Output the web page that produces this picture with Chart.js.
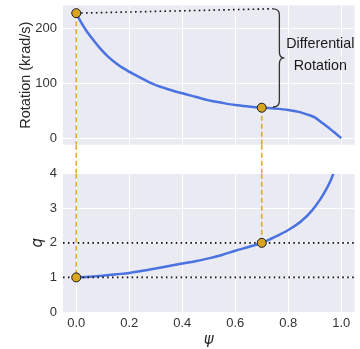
<!DOCTYPE html>
<html>
<head>
<meta charset="utf-8">
<script src="https://cdn.jsdelivr.net/npm/chart.js@4.4.0/dist/chart.umd.min.js"></script>
<style>
  html, body { margin: 0; padding: 0; background: #fff; }
</style>
</head>
<body>
<canvas id="grafico" width="360" height="349"></canvas>
<script>
// values
const psiTop = [0, 0.02, 0.04, 0.06, 0.09, 0.12, 0.15, 0.18, 0.22, 0.26, 0.3, 0.35, 0.4, 0.45, 0.5, 0.55, 0.6, 0.65, 0.7, 0.75, 0.8, 0.84, 0.87, 0.9, 0.93, 0.96, 0.98, 1.0];
const rotation = [228.4, 210, 195, 182, 164, 149, 137, 127, 116, 106, 97, 89, 82, 75.5, 69, 64.5, 60.5, 57.8, 55.6, 54, 51.5, 48, 43.5, 38, 27, 16, 8, 0];

const psiBot = [0, 0.05, 0.1, 0.15, 0.2, 0.25, 0.3, 0.35, 0.4, 0.45, 0.5, 0.55, 0.6, 0.65, 0.7, 0.75, 0.8, 0.85, 0.89, 0.92, 0.94, 0.96, 0.97];
const qValues = [1.0, 1.02, 1.05, 1.09, 1.13, 1.19, 1.26, 1.33, 1.4, 1.47, 1.55, 1.65, 1.77, 1.88, 2.0, 2.17, 2.37, 2.63, 2.94, 3.25, 3.5, 3.8, 4.0];

const markerPsi = [0, 0.7];
const markerRot = [228.4, 55.6];
const markerQ = [1, 2];
const qLines = [1, 2];

const xTicks = [0, 0.2, 0.4, 0.6, 0.8, 1.0];
const rotTicks = [0, 100, 200];
const qTicks = [0, 1, 2, 3, 4];

const xMin = -0.05, xMax = 1.05;
const rotMin = -12.2, rotMax = 242.4;
const qMin = 0, qMax = 4;

// brace + label of the top panel
const braceX = 0.742;
const braceTop = 236.4;
const braceBottom = 56.9;
const labelPsi = 0.921;
const labelLines = ["Differential", "Rotation"];
const labelRot = [172.5, 131];

const blue = "#4a72e0";
const gold = "rgba(222,168,38,0.95)";
const panelBg = "#EAEAF2";
const textColor = "#333333";

const pts = (xs, ys) => xs.map((x, i) => ({ x: x, y: ys[i] }));

const datasets = [];

// markers (drawn on top)
datasets.push({ data: pts(markerPsi, markerRot), yAxisID: "yTop", pointRadius: 4.5, pointBackgroundColor: "#D9A521", pointBorderColor: "#1a1a1a", pointBorderWidth: 1, showLine: false, order: 0 });
datasets.push({ data: pts(markerPsi, markerQ), yAxisID: "yBot", pointRadius: 4.5, pointBackgroundColor: "#D9A521", pointBorderColor: "#1a1a1a", pointBorderWidth: 1, showLine: false, order: 0 });

// dotted reference lines
qLines.forEach((q) => {
  datasets.push({ data: [{ x: xMin, y: q }, { x: xMax, y: q }], yAxisID: "yBot", showLine: true, pointRadius: 0, borderColor: "#111", borderWidth: 1.6, borderDash: [1.6, 3.3], order: 1 });
});
datasets.push({ data: [{ x: markerPsi[0], y: markerRot[0] }, { x: braceX, y: braceTop }], yAxisID: "yTop", showLine: true, pointRadius: 0, borderColor: "#111", borderWidth: 1.6, borderDash: [1.6, 3.3], order: 1 });

// curves
datasets.push({ data: pts(psiTop, rotation), yAxisID: "yTop", showLine: true, pointRadius: 0, borderColor: blue, borderWidth: 2.5, cubicInterpolationMode: "monotone", order: 2 });
datasets.push({ data: pts(psiBot, qValues), yAxisID: "yBot", showLine: true, pointRadius: 0, borderColor: blue, borderWidth: 2.5, cubicInterpolationMode: "monotone", order: 2 });

// dashed connectors, top panel -> gap -> bottom panel
markerPsi.forEach((p, i) => {
  const dash = { showLine: true, pointRadius: 0, borderColor: gold, borderWidth: 1.6, borderDash: [5, 3], order: 3 };
  datasets.push({ ...dash, yAxisID: "yTop", data: [{ x: p, y: markerRot[i] }, { x: p, y: rotMin }] });
  datasets.push({ ...dash, yAxisID: "yGap", data: [{ x: p, y: 1 }, { x: p, y: 0 }] });
  datasets.push({ ...dash, yAxisID: "yBot", data: [{ x: p, y: qMax }, { x: p, y: markerQ[i] }] });
});

// panel backgrounds, white gap, brace and label
const panels = {
  id: "panels",
  beforeDraw(chart) {
    const { ctx, chartArea: ca, scales } = chart;
    ctx.save();
    ctx.fillStyle = "#fff";
    ctx.fillRect(0, 0, chart.width, chart.height);
    ctx.fillStyle = panelBg;
    ["yTop", "yBot"].forEach((id) => {
      const s = scales[id];
      ctx.fillRect(ca.left, s.top, ca.right - ca.left, s.bottom - s.top);
    });
    ctx.restore();
  },
  beforeDatasetsDraw(chart) {
    const { ctx, chartArea: ca, scales } = chart;
    const g = scales.yGap;
    ctx.save();
    ctx.fillStyle = "#fff";
    ctx.fillRect(ca.left, g.top, ca.right - ca.left, g.bottom - g.top);
    ctx.restore();
  },
  afterDatasetsDraw(chart) {
    const { ctx, scales } = chart;
    const x = scales.x.getPixelForValue(braceX);
    const y1 = scales.yTop.getPixelForValue(braceTop);
    const y2 = scales.yTop.getPixelForValue(braceBottom);
    const ym = (y1 + y2) / 2;
    const w = 6.5, r = 6;
    ctx.save();
    ctx.strokeStyle = "#333";
    ctx.lineWidth = 1.3;
    ctx.beginPath();
    ctx.moveTo(x, y1);
    ctx.quadraticCurveTo(x + w, y1, x + w, y1 + r);
    ctx.lineTo(x + w, ym - r);
    ctx.quadraticCurveTo(x + w, ym, x + w + 5, ym);
    ctx.quadraticCurveTo(x + w, ym, x + w, ym + r);
    ctx.lineTo(x + w, y2 - r);
    ctx.quadraticCurveTo(x + w, y2, x, y2);
    ctx.stroke();

    ctx.fillStyle = "#1a1a1a";
    ctx.font = "14.3px 'Liberation Sans', Arial, sans-serif";
    ctx.textAlign = "center";
    ctx.textBaseline = "middle";
    labelLines.forEach((t, i) => {
      ctx.fillText(t, scales.x.getPixelForValue(labelPsi), scales.yTop.getPixelForValue(labelRot[i]));
    });
    ctx.restore();
  },
};

const tickFont = { family: "'Liberation Sans', Arial, sans-serif", size: 13 };
const grid = { color: "#fff", lineWidth: 1, drawTicks: false };

// y axes: fixed width, no extra margin for the edge labels
const fitY = (s) => {
  s.width = 63;
  s.paddingTop = 0;
  s.paddingBottom = 0;
};

new Chart(document.getElementById("grafico"), {
  type: "scatter",
  data: { datasets: datasets },
  options: {
    responsive: false,
    animation: false,
    devicePixelRatio: 1,
    layout: { padding: { top: 4, left: 0, right: 0, bottom: 0 } },
    plugins: { legend: { display: false }, tooltip: { enabled: false } },
    scales: {
      x: {
        type: "linear",
        min: xMin,
        max: xMax,
        grid: grid,
        border: { display: false },
        afterBuildTicks: (s) => { s.ticks = xTicks.map((v) => ({ value: v })); },
        afterFit: (s) => { s.height = 37; s.paddingLeft = 0; s.paddingRight = 0; },
        ticks: { font: tickFont, color: textColor, padding: 4, callback: (v) => Number(v).toFixed(1) },
        title: { display: true, text: "ψ", color: "#262626", font: { family: "'DejaVu Sans', sans-serif", size: 15, style: "italic" }, padding: { top: 0, bottom: 0 } },
      },
      yTop: {
        type: "linear",
        position: "left",
        stack: "panels",
        stackWeight: 140,
        weight: 3,
        min: rotMin,
        max: rotMax,
        grid: grid,
        border: { display: false },
        afterBuildTicks: (s) => { s.ticks = rotTicks.map((v) => ({ value: v })); },
        afterFit: fitY,
        ticks: { font: tickFont, color: textColor, padding: 6, callback: (v) => String(v) },
        title: { display: true, text: "Rotation (krad/s)", color: "#262626", font: { family: "'Liberation Sans', Arial, sans-serif", size: 14.5 }, padding: { top: 17, bottom: 0 } },
      },
      yGap: {
        type: "linear",
        position: "left",
        stack: "panels",
        stackWeight: 29,
        weight: 2,
        min: 0,
        max: 1,
        display: false,
      },
      yBot: {
        type: "linear",
        position: "left",
        stack: "panels",
        stackWeight: 139,
        weight: 1,
        min: qMin,
        max: qMax,
        grid: grid,
        border: { display: false },
        afterBuildTicks: (s) => { s.ticks = qTicks.map((v) => ({ value: v })); },
        afterFit: fitY,
        ticks: { font: tickFont, color: textColor, padding: 6, callback: (v) => String(v) },
        title: { display: true, text: "q", color: "#262626", font: { family: "'DejaVu Sans', sans-serif", size: 15, style: "italic" }, padding: { top: 29, bottom: 0 } },
      },
    },
  },
  plugins: [panels],
});
</script>
</body>
</html>
